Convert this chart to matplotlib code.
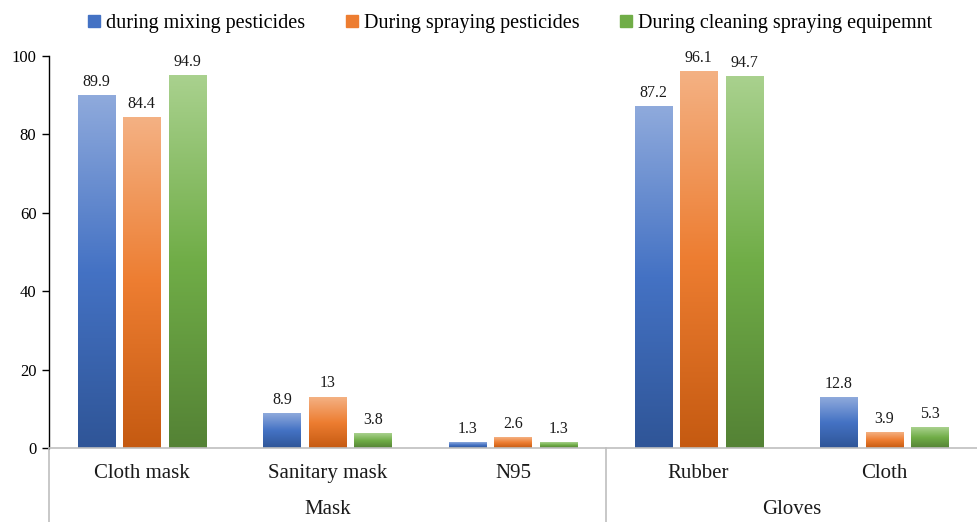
import numpy as np
import matplotlib
matplotlib.use('Agg')
import matplotlib.pyplot as plt
from matplotlib.lines import Line2D
from matplotlib.colors import LinearSegmentedColormap
import matplotlib.transforms as mtransforms

plt.rcParams['font.family'] = ['Liberation Serif', 'DejaVu Serif']

# ---- data ----
categories = ['Cloth mask', 'Sanitary mask', 'N95', 'Rubber', 'Cloth']
groups = ['Mask', 'Gloves']
group_spans = [(0, 2), (3, 4)]
series = ['during mixing pesticides', 'During spraying pesticides',
          'During cleaning spraying equipemnt']
mixing = [89.9, 8.9, 1.3, 87.2, 12.8]
spraying = [84.4, 13, 2.6, 96.1, 3.9]
cleaning = [94.9, 3.8, 1.3, 94.7, 5.3]
y_ticks = [0, 20, 40, 60, 80, 100]

# gradient stops (bottom -> middle -> top)
GRADIENTS = [
    ('#2f5597', '#4472c4', '#8faadc'),
    ('#c55a11', '#ed7d31', '#f4b183'),
    ('#548235', '#70ad47', '#a9d18e'),
]
LEGEND_COLORS = ['#4472c4', '#ed7d31', '#70ad47']
AXIS_GRAY = '#bfbfbf'

fig = plt.figure(figsize=(9.77, 5.22), dpi=100)
ax = fig.add_axes([49/977, 74/522, 928/977, 392/522])

x = np.arange(len(categories))
bar_w = 0.2
offsets = [-0.245, 0, 0.245]
values = [mixing, spraying, cleaning]

ramp = np.linspace(0, 1, 256).reshape(-1, 1)
for vals, off, stops in zip(values, offsets, GRADIENTS):
    cmap = LinearSegmentedColormap.from_list('g', list(stops))
    for xi, v in zip(x, vals):
        x0, x1 = xi + off - bar_w/2, xi + off + bar_w/2
        ax.imshow(ramp, cmap=cmap, origin='lower', aspect='auto',
                  extent=(x0, x1, 0, v), interpolation='bilinear', zorder=2)
        ax.annotate(f'{v:g}', (xi + off, v), xytext=(0, 4),
                    textcoords='offset points', ha='center', va='bottom',
                    fontsize=11.5, color='#1a1a1a')

ax.set_xlim(-0.5, len(categories) - 0.5)
ax.set_ylim(0, 100)
ax.set_yticks(y_ticks)
ax.set_xticks([])
ax.tick_params(axis='y', direction='out', length=5, width=1, labelsize=12, pad=4)

for s in ['top', 'right']:
    ax.spines[s].set_visible(False)
ax.spines['left'].set_color('black')
ax.spines['left'].set_linewidth(1)
ax.spines['bottom'].set_color(AXIS_GRAY)
ax.spines['bottom'].set_linewidth(1.2)

# multi-level category axis below the plot
trans = mtransforms.blended_transform_factory(ax.transData, ax.transAxes)
y_bottom = -74 / 392
for xv in [-0.5, 2.5]:
    ax.add_line(Line2D([xv, xv], [0, y_bottom], transform=trans,
                       color=AXIS_GRAY, lw=1.2, clip_on=False))

for xi, name in zip(x, categories):
    ax.text(xi, -0.066, name, transform=trans, ha='center', va='center',
            fontsize=15, color='#1a1a1a')
for name, (a, b) in zip(groups, group_spans):
    ax.text((a + b) / 2, -0.158, name, transform=trans, ha='center',
            va='center', fontsize=15, color='#1a1a1a')

# legend across the top
handles = [Line2D([], [], marker='s', linestyle='none', markersize=8,
                  markerfacecolor=c, markeredgecolor=c) for c in LEGEND_COLORS]
fig.legend(handles, series, loc='center', bbox_to_anchor=(0.522, 0.955),
           ncol=3, frameon=False, fontsize=14.5, handlelength=0.6,
           handletextpad=0.3, columnspacing=2.0)

fig.savefig('out.png', dpi=100)
